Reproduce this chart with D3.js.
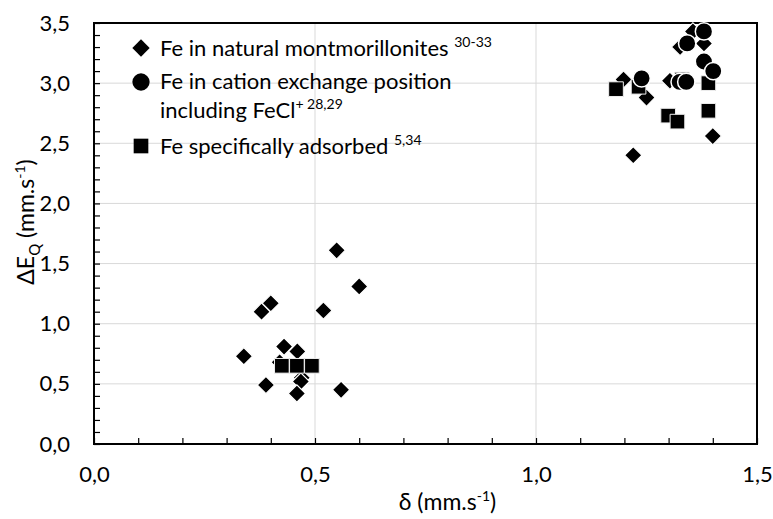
<!DOCTYPE html>
<html>
<head>
<meta charset="utf-8">
<script src="https://cdn.jsdelivr.net/npm/d3@7"></script>
<style>
  html, body { margin: 0; padding: 0; background: #fff; }
  svg { display: block; font-family: Lato, "Open Sans", sans-serif; }
</style>
</head>
<body>
<svg id="chart" width="773" height="519"></svg>
<script>
// Mössbauer parameters: isomer shift δ and quadrupole splitting ΔEQ (mm/s)
const naturalDelta = [0.549, 0.600, 0.400, 0.379, 0.519, 0.430, 0.460, 0.339, 0.389, 0.470, 0.468, 0.459, 0.559, 0.420,
                      1.400, 1.220, 1.250, 1.198, 1.303, 1.380, 1.326, 1.355];
const naturalDEQ   = [1.61, 1.31, 1.17, 1.10, 1.11, 0.81, 0.77, 0.73, 0.49, 0.55, 0.52, 0.42, 0.45, 0.68,
                      2.56, 2.40, 2.88, 3.03, 3.02, 3.33, 3.30, 3.43];

const adsorbedDelta = [1.181, 1.232, 1.390, 1.390, 1.299, 1.320, 1.330, 0.425, 0.459, 0.493];
const adsorbedDEQ   = [2.95, 2.97, 3.00, 2.77, 2.73, 2.68, 3.03, 0.65, 0.65, 0.65];

const exchangeDelta = [1.380, 1.342, 1.380, 1.401, 1.239, 1.325, 1.340];
const exchangeDEQ   = [3.43, 3.33, 3.18, 3.10, 3.04, 3.01, 3.01];

const xTicks = [0, 0.5, 1.0, 1.5];
const yTicks = [0, 0.5, 1.0, 1.5, 2.0, 2.5, 3.0, 3.5];

const svg = d3.select("#chart");
const plot = { left: 94, right: 757, top: 23, bottom: 444 };

const x = d3.scaleLinear().domain([0, 1.5]).range([plot.left, plot.right]);
const y = d3.scaleLinear().domain([0, 3.5]).range([plot.bottom, plot.top]);
const fmt = v => d3.format(".1f")(v).replace(".", ",");

// gridlines
svg.append("g").selectAll("line").data(yTicks.slice(1, -1)).join("line")
  .attr("x1", plot.left).attr("x2", plot.right)
  .attr("y1", d => y(d)).attr("y2", d => y(d))
  .attr("stroke", "#d9d9d9").attr("stroke-width", 1);
svg.append("g").selectAll("line").data(xTicks.slice(1, -1)).join("line")
  .attr("y1", plot.top).attr("y2", plot.bottom)
  .attr("x1", d => x(d)).attr("x2", d => x(d))
  .attr("stroke", "#d9d9d9").attr("stroke-width", 1);

// minor/major tick marks pointing inward
const minorX = d3.range(0, 16).map(i => i / 10);
const minorY = d3.range(0, 36).map(i => i / 10);
const xTickAxis = svg.append("g").attr("transform", `translate(0,${plot.bottom})`)
  .call(d3.axisBottom(x).tickValues(minorX).tickSize(-6).tickFormat(""));
const yTickAxis = svg.append("g").attr("transform", `translate(${plot.left},0)`)
  .call(d3.axisLeft(y).tickValues(minorY).tickSize(-6).tickFormat(""));
[xTickAxis, yTickAxis].forEach(g => {
  g.select(".domain").remove();
  g.selectAll(".tick line").attr("stroke", "#000").attr("stroke-width", 1.2);
});

// tick labels
const xLab = svg.append("g").attr("transform", `translate(0,${plot.bottom})`)
  .call(d3.axisBottom(x).tickValues(xTicks).tickSize(0).tickPadding(22).tickFormat(fmt));
const yLab = svg.append("g").attr("transform", `translate(${plot.left},0)`)
  .call(d3.axisLeft(y).tickValues(yTicks).tickSize(0).tickPadding(24).tickFormat(fmt));
[xLab, yLab].forEach(g => {
  g.select(".domain").remove();
  g.selectAll("text").attr("font-family", "Lato, sans-serif").attr("font-size", 22).attr("fill", "#000");
});

// plot frame
svg.append("rect")
  .attr("x", plot.left).attr("y", plot.top)
  .attr("width", plot.right - plot.left).attr("height", plot.bottom - plot.top)
  .attr("fill", "none").attr("stroke", "#000").attr("stroke-width", 2);

// markers
const diamond = d3.symbol().type(d3.symbolSquare).size(150);
const square = d3.symbol().type(d3.symbolSquare).size(215);
const circle = d3.symbol().type(d3.symbolCircle).size(235);

const marks = svg.append("g");
marks.append("g").selectAll("path").data(d3.zip(naturalDelta, naturalDEQ)).join("path")
  .attr("d", diamond)
  .attr("transform", d => `translate(${x(d[0])},${y(d[1])}) rotate(45)`)
  .attr("fill", "#000").attr("stroke", "#fff").attr("stroke-width", 1.2);
marks.append("g").selectAll("path").data(d3.zip(adsorbedDelta, adsorbedDEQ)).join("path")
  .attr("d", square)
  .attr("transform", d => `translate(${x(d[0])},${y(d[1])})`)
  .attr("fill", "#000").attr("stroke", "#eee").attr("stroke-width", 1);
marks.append("g").selectAll("path").data(d3.zip(exchangeDelta, exchangeDEQ)).join("path")
  .attr("d", circle)
  .attr("transform", d => `translate(${x(d[0])},${y(d[1])})`)
  .attr("fill", "#000").attr("stroke", "#fff").attr("stroke-width", 1.5);

// legend
const legend = svg.append("g").attr("font-size", 22).attr("fill", "#000");
const lx = 141, tx = 160;
legend.append("path").attr("d", diamond).attr("transform", `translate(${lx},48) rotate(45)`).attr("fill", "#000");
legend.append("path").attr("d", circle).attr("transform", `translate(${lx},82)`).attr("fill", "#000");
legend.append("path").attr("d", square).attr("transform", `translate(${lx},146)`).attr("fill", "#000");

function legendText(yPos, main, sup) {
  const t = legend.append("text").attr("x", tx).attr("y", yPos + 8);
  t.append("tspan").text(main);
  if (sup) t.append("tspan").attr("font-size", 14).attr("dy", -9).text(sup);
  return t;
}
legendText(48, "Fe in natural montmorillonites ", "30-33");
legendText(81, "Fe in cation exchange position");
legendText(110, "including FeCl", "+ 28,29");
legendText(146, "Fe specifically adsorbed ", "5,34");

// axis titles
const xt = svg.append("text").attr("x", (plot.left + plot.right) / 2 + 22).attr("y", 510)
  .attr("text-anchor", "middle").attr("font-size", 23).attr("fill", "#000");
xt.append("tspan").text("δ (mm.s");
xt.append("tspan").attr("font-size", 14).attr("dy", -9).text("-1");
xt.append("tspan").attr("dy", 9).text(")");

const yt = svg.append("text").attr("transform", `translate(34,222) rotate(-90)`)
  .attr("text-anchor", "middle").attr("font-size", 23).attr("fill", "#000");
yt.append("tspan").text("ΔE");
yt.append("tspan").attr("font-size", 15).attr("dy", 6).text("Q");
yt.append("tspan").attr("dy", -6).text(" (mm.s");
yt.append("tspan").attr("font-size", 14).attr("dy", -9).text("-1");
yt.append("tspan").attr("dy", 9).text(")");
</script>
</body>
</html>
